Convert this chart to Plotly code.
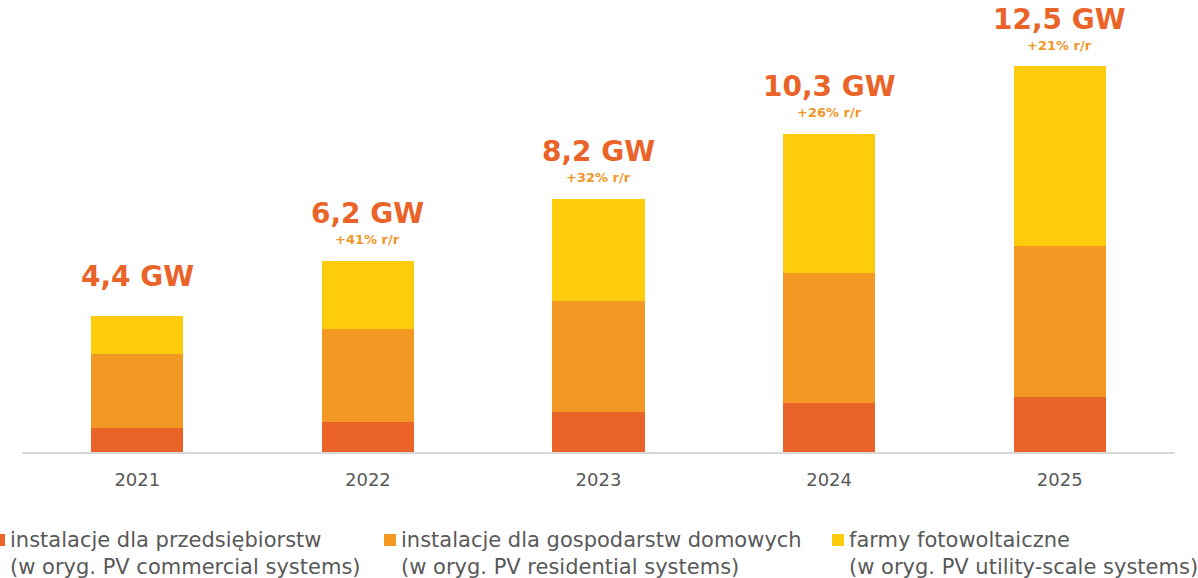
import plotly.graph_objects as go

years = ["2021", "2022", "2023", "2024", "2025"]
commercial = [0.78, 0.97, 1.30, 1.59, 1.78]
residential = [2.39, 3.01, 3.59, 4.21, 4.89]
utility = [1.23, 2.22, 3.31, 4.50, 5.83]
total_labels = ["4,4 GW", "6,2 GW", "8,2 GW", "10,3 GW", "12,5 GW"]
growth_labels = ["", "+41% r/r", "+32% r/r", "+26% r/r", "+21% r/r"]

series_names = [
    ("instalacje dla przedsiębiorstw", "(w oryg. PV commercial systems)"),
    ("instalacje dla gospodarstw domowych", "(w oryg. PV residential systems)"),
    ("farmy fotowoltaiczne", "(w oryg. PV utility-scale systems)"),
]
colors = ["#EA6328", "#F39923", "#FECC0A"]

FONT = "DejaVu Sans"
W, H = 1198, 578
L, R, T, B = 22, 23, 0, 126
PW, PH = W - L - R, H - T - B

fig = go.Figure()
for vals, (n1, n2), c in zip([commercial, residential, utility], series_names, colors):
    fig.add_trace(go.Bar(x=years, y=vals, name=n1, marker=dict(color=c, line=dict(width=0)),
                         showlegend=False, hoverinfo="skip"))

totals = [a + b + c for a, b, c in zip(commercial, residential, utility)]
for i, (tot, lab, g) in enumerate(zip(totals, total_labels, growth_labels)):
    fig.add_annotation(x=i, y=tot, xref="x", yref="y", text=f"<b>{lab}</b>", showarrow=False,
                       yshift=47 if g else 40, yanchor="middle",
                       font=dict(family=FONT, size=28, color="#EA6328"))
    if g:
        fig.add_annotation(x=i, y=tot, xref="x", yref="y", text=f"<b>{g}</b>", showarrow=False,
                           yshift=21, yanchor="middle",
                           font=dict(family=FONT, size=13, color="#F0962A"))

def px(xp):
    return (xp - L) / PW

def py(yp):
    return (H - B - yp) / PH

# legend built from shapes + annotations
legend_x = [10, 401, 849]
for (n1, n2), c, lx in zip(series_names, colors, legend_x):
    fig.add_shape(type="rect", xref="paper", yref="paper",
                  x0=px(lx - 17), x1=px(lx - 5), y0=py(546), y1=py(534),
                  fillcolor=c, line=dict(width=0), layer="above")
    fig.add_annotation(xref="paper", yref="paper", x=px(lx - 2), y=py(553),
                       text=f"{n1}<br>{n2}", showarrow=False, xanchor="left", yanchor="middle",
                       align="left",
                       font=dict(family=FONT, size=21, color="#595959"))

fig.update_layout(
    width=W, height=H,
    margin=dict(l=L, r=R, t=T, b=B),
    plot_bgcolor="white", paper_bgcolor="white",
    barmode="stack", bargap=0.6,
    font=dict(family=FONT, color="#595959"),
    xaxis=dict(type="category", showgrid=False, showline=True, linecolor="#D9D9D9", linewidth=2,
               ticks="", tickfont=dict(size=18, color="#595959"), ticklabelstandoff=10,
               range=[-0.5, 4.5]),
    yaxis=dict(visible=False, range=[0, PH / 30.88]),
)
fig.write_html("out.html", config={"displayModeBar": False},
               post_script="document.body.style.margin='0';")
